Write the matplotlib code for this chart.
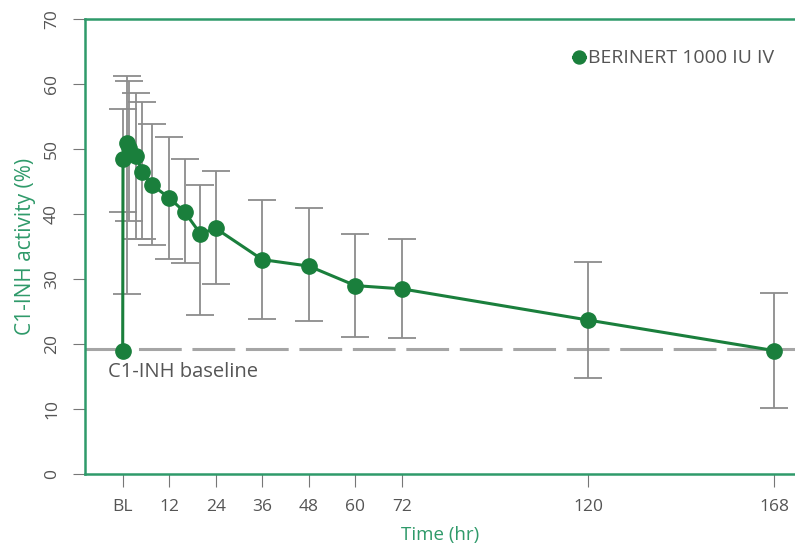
import numpy as np
import matplotlib.pyplot as plt

# Dados
tempo = [0, 0.08, 1, 1.5, 3.5, 5, 7.5, 12, 16, 20, 24, 36, 48, 60, 72, 120, 168]
atividade = [19, 48.5, 51, 50.2, 49, 46.5, 44.5, 42.5, 40.3, 37, 37.8, 33, 32, 29, 28.5, 23.7, 19]
erro_inf = [np.nan, 40.3, 27.7, 39, 36.1, 36.1, 35.3, 33.1, 32.5, 24.5, 29.3, 23.8, 23.5, 21.1, 20.9, 14.8, 10.1]
erro_sup = [np.nan, 56.2, 61.2, 60.4, 58.6, 57.2, 53.8, 51.8, 48.4, 44.5, 46.7, 42.1, 40.9, 37, 36.2, 32.7, 27.9]
baseline = 19.3

xticks = [0, 12, 24, 36, 48, 60, 72, 120, 168]
xlabels = ['BL', '12', '24', '36', '48', '60', '72', '120', '168']
yticks = [0, 10, 20, 30, 40, 50, 60, 70]

verde = '#1a7f3c'
verde_eixo = '#2f9a6a'
cinza = '#8c8c8c'
texto = '#555555'

plt.rcParams['font.family'] = ['Open Sans', 'DejaVu Sans']

fig = plt.figure(figsize=(7.95, 5.45), dpi=100)
ax = fig.add_axes([0.107, 0.130, 0.893, 0.835])

y = np.array(atividade)
lo = y - np.array(erro_inf)
hi = np.array(erro_sup) - y
ax.errorbar(tempo, y, yerr=[lo, hi], fmt='none', ecolor=cinza, elinewidth=1.3,
            capsize=10, capthick=1.3, zorder=2)

ax.axhline(baseline, color='#a5a5a5', lw=2.2, dashes=(14, 3.5), zorder=1)
ax.text(-3.8, baseline - 3.6, 'C1-INH baseline', color=texto, fontsize=14.5,
        va='center', ha='left')

ax.plot(tempo, atividade, color=verde, lw=2.2, marker='o', ms=11,
        markerfacecolor=verde, markeredgecolor=verde, zorder=3,
        label='BERINERT 1000 IU IV')

ax.set_xlim(-9.7, 173.3)
ax.set_ylim(0, 70)
ax.set_xticks(xticks)
ax.set_xticklabels(xlabels)
ax.set_yticks(yticks)
ax.tick_params(axis='both', direction='out', length=9, color='#777777',
               labelcolor=texto, labelsize=12.5, pad=9)
for lab in ax.get_yticklabels():
    lab.set_rotation(90)
    lab.set_va('center')

for lado in ['left', 'bottom', 'top']:
    ax.spines[lado].set_color(verde_eixo)
    ax.spines[lado].set_linewidth(1.8)
ax.spines['right'].set_visible(False)

ax.set_xlabel('Time (hr)', color=verde_eixo, fontsize=13.5, labelpad=8)
ax.set_ylabel('C1-INH activity (%)', color=verde_eixo, fontsize=15, labelpad=6)

ax.legend(loc='upper right', bbox_to_anchor=(0.995, 0.972), frameon=False,
          fontsize=14, handlelength=0.6, handletextpad=0.15, numpoints=1,
          labelcolor=texto, markerscale=0.85)

plt.savefig('out.png', dpi=100)
